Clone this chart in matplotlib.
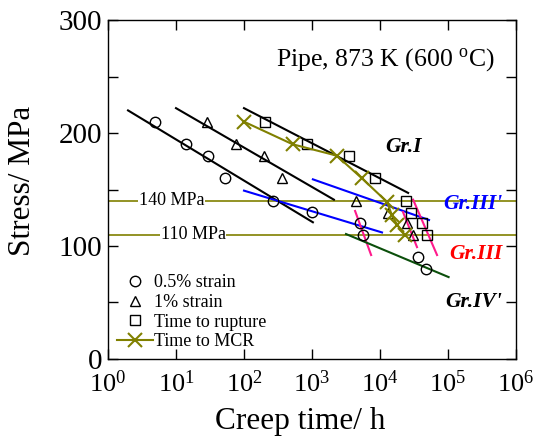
import matplotlib
matplotlib.use("Agg")
import matplotlib.pyplot as plt
import numpy as np
from matplotlib.ticker import NullLocator, MultipleLocator, FixedLocator

plt.rcParams['font.family'] = ['Liberation Serif', 'DejaVu Serif']
plt.rcParams['mathtext.fontset'] = 'custom'
plt.rcParams['mathtext.rm'] = 'Liberation Serif'
plt.rcParams['mathtext.it'] = 'Liberation Serif:italic'
plt.rcParams['mathtext.bf'] = 'Liberation Serif:bold'

# ---- data ----
strain05_t = [4.9, 14, 30, 52, 267, 1000, 5000, 5600, 36000, 47500]
strain05_s = [210, 190, 180, 160, 140, 130, 120, 110, 90, 80]

strain1_t = [28.6, 76, 196, 362, 4500, 13000, 25000, 30700]
strain1_s = [210, 190, 180, 160, 140, 129, 120, 110]

rupture_t = [203, 850, 3500, 8500, 24000, 29000, 41500, 49000]
rupture_s = [210, 190, 180, 160, 140, 129, 120, 110]

mcr_t = [100, 520, 2300, 5400, 12700, 15000, 17800, 23000]
mcr_s = [210, 190, 180, 160, 139, 127, 119, 110]

# fitted lines (endpoints: time, stress)
fit_black_t = [[1.97, 1030], [10, 2100], [100, 25900]]
fit_black_s = [[220, 121], [222, 141], [222, 147]]
fit_blue_t = [[100, 10700], [1030, 52600]]
fit_blue_s = [[149, 112], [159, 123]]
fit_pink_t = [[4300, 7400], [21800, 35000], [30700, 69000]]
fit_pink_s = [[131, 92], [130, 99], [141, 92]]
fit_green_t = [3160, 102000]
fit_green_s = [110.6, 72.5]

ref_stress = [140, 110]
ref_labels = ["140 MPa", "110 MPa"]

fig = plt.figure(figsize=(5.43, 4.37), dpi=100)
ax = fig.add_axes([0.1989, 0.1785, 0.9503 - 0.1989, 0.9542 - 0.1785])
ax.set_xscale('log')
ax.set_xlim(1, 1e6)
ax.set_ylim(0, 300)

olive = '#808000'
# reference horizontal lines
for s, lab, xl in zip(ref_stress, ref_labels, [8.7, 17.8]):
    ax.axhline(s, color=olive, lw=1.2, zorder=1)
    ax.text(xl, s, lab, ha='center', va='center', fontsize=13, zorder=2,
            bbox=dict(facecolor='white', edgecolor='none', pad=0.5))

for t, s in zip(fit_black_t, fit_black_s):
    ax.plot(t, s, color='black', lw=1.5, zorder=3)
for t, s in zip(fit_blue_t, fit_blue_s):
    ax.plot(t, s, color='#0000ff', lw=1.5, zorder=3)
for t, s in zip(fit_pink_t, fit_pink_s):
    ax.plot(t, s, color='#ff1a8c', lw=1.5, zorder=3)
ax.plot(fit_green_t, fit_green_s, color='#0b4f0b', lw=1.5, zorder=3)

mk = dict(mfc='none', mec='black', mew=1.0, ls='none', ms=7.5, zorder=4)
ax.plot(strain05_t, strain05_s, marker='o', label='0.5% strain', **mk)
ax.plot(strain1_t, strain1_s, marker='^', label='1% strain', **mk)
ax.plot(rupture_t, rupture_s, marker='s', label='Time to rupture', **mk)
ax.plot(mcr_t, mcr_s, marker='x', color=olive, lw=1.5, ms=9.5, mew=1.5,
        label='Time to MCR', zorder=5)

leg = ax.legend(loc='lower left', bbox_to_anchor=(-0.01, -0.012), frameon=False,
                fontsize=13, handlelength=2.0, handletextpad=0.1,
                labelspacing=0.15, borderaxespad=0.3)

ax.text(0.949, 0.867, "Pipe, 873 K (600 $^{\\mathrm{o}}$C)", transform=ax.transAxes,
        ha='right', va='baseline', fontsize=18.5)

gkw = dict(fontsize=15.5, fontweight='bold', fontstyle='italic', va='center')
ax.text(1.2e4, 188, "Gr.I", ha='left', color='black', **gkw)
ax.text(0.966, 137 / 300, "Gr.III'", transform=ax.transAxes, ha='right',
        color='#0000ff', **gkw)
ax.text(0.966, 93 / 300, "Gr.III", transform=ax.transAxes, ha='right',
        color='#ff0000', **gkw)
ax.text(0.966, 50 / 300, "Gr.IV'", transform=ax.transAxes, ha='right',
        color='black', **gkw)

ax.xaxis.set_major_locator(FixedLocator([1e0, 1e1, 1e2, 1e3, 1e4, 1e5, 1e6]))
ax.xaxis.set_minor_locator(NullLocator())
ax.set_xticklabels(["$10^{%d}$" % i for i in range(7)])
ax.yaxis.set_major_locator(MultipleLocator(100))
ax.yaxis.set_minor_locator(MultipleLocator(50))
ax.tick_params(which='both', direction='in', top=True, right=True, width=1.0)
ax.tick_params(which='major', length=7)
ax.tick_params(which='minor', length=7)
ax.tick_params(axis='x', labelsize=19, pad=8)
ax.tick_params(axis='y', labelsize=21, pad=4)
for sp in ax.spines.values():
    sp.set_linewidth(1.0)

ax.set_xlabel("Creep time/ h", fontsize=22.5)
ax.xaxis.set_label_coords(0.47, -0.143)
ax.set_ylabel("Stress/ MPa", fontsize=22.5)
ax.yaxis.set_label_coords(-0.175, 0.525)

fig.savefig("out.png", dpi=100)
